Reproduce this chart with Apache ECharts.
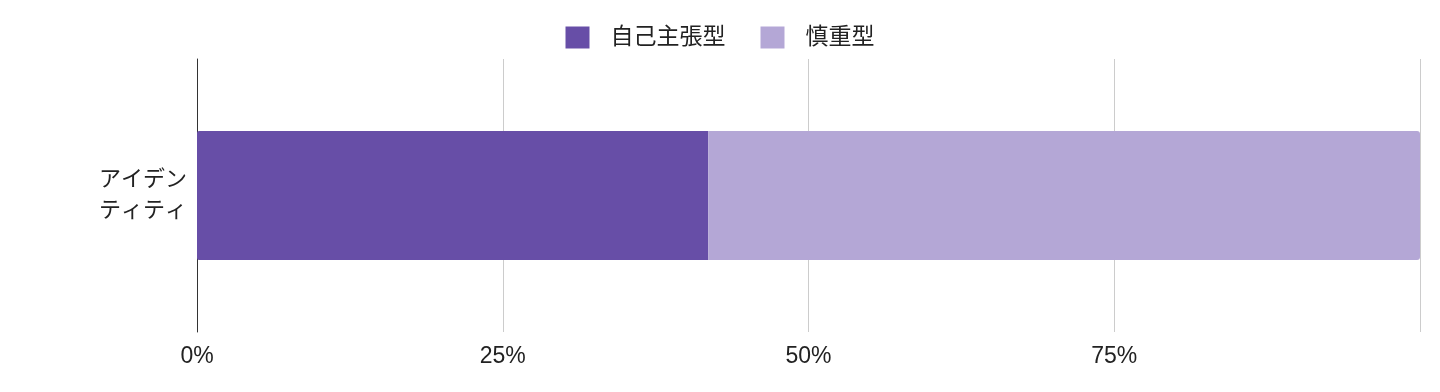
<!DOCTYPE html>
<html><head><meta charset="utf-8">
<script src="https://cdn.jsdelivr.net/npm/echarts@6/dist/echarts.min.js"></script>
<style>html,body{margin:0;padding:0;background:#fff}#c{width:1440px;height:392px}</style>
</head><body><div id="c"></div>
<script>
const categories = ['アイデン\nティティ'];
const seriesNames = ['自己主張型', '慎重型'];
const assertive = [41.8];
const cautious = [58.2];
const tickLabels = ['0%', '25%', '50%', '75%', ''];
const colors = ['#674ea7', '#b4a7d6'];

const font = '"Liberation Sans", "Noto Sans CJK JP", sans-serif';
const chart = echarts.init(document.getElementById('c'));
chart.setOption({
  animation: false,
  textStyle: { fontFamily: font },
  legend: {
    top: 21, left: 'center',
    itemWidth: 24, itemHeight: 22, itemGap: 35,
    textStyle: { fontSize: 23, color: '#222', fontFamily: font, padding: [0, 0, 0, 16] },
    icon: 'rect',
    data: seriesNames
  },
  grid: { left: 197, right: 20, top: 59, bottom: 60, containLabel: false },
  xAxis: {
    type: 'value', min: 0, max: 100, interval: 25,
    axisLine: { show: false }, axisTick: { show: false },
    splitLine: { show: true, lineStyle: { color: '#cccccc', width: 1 } },
    axisLabel: {
      fontSize: 23, color: '#222', margin: 13,
      formatter: v => tickLabels[Math.round(v / 25)]
    }
  },
  yAxis: {
    type: 'category', data: categories,
    axisLine: { show: true, lineStyle: { color: '#333', width: 1 } },
    axisTick: { show: false },
    axisLabel: { fontSize: 22, color: '#222', lineHeight: 31, margin: 10, align: 'right' }
  },
  series: [
    { name: seriesNames[0], type: 'bar', stack: 's', data: assertive, barWidth: 129,
      itemStyle: { color: colors[0], borderRadius: [2, 0, 0, 2] } },
    { name: seriesNames[1], type: 'bar', stack: 's', data: cautious, barWidth: 129,
      itemStyle: { color: colors[1], borderRadius: [0, 3, 3, 0] } }
  ]
});
</script></body></html>
